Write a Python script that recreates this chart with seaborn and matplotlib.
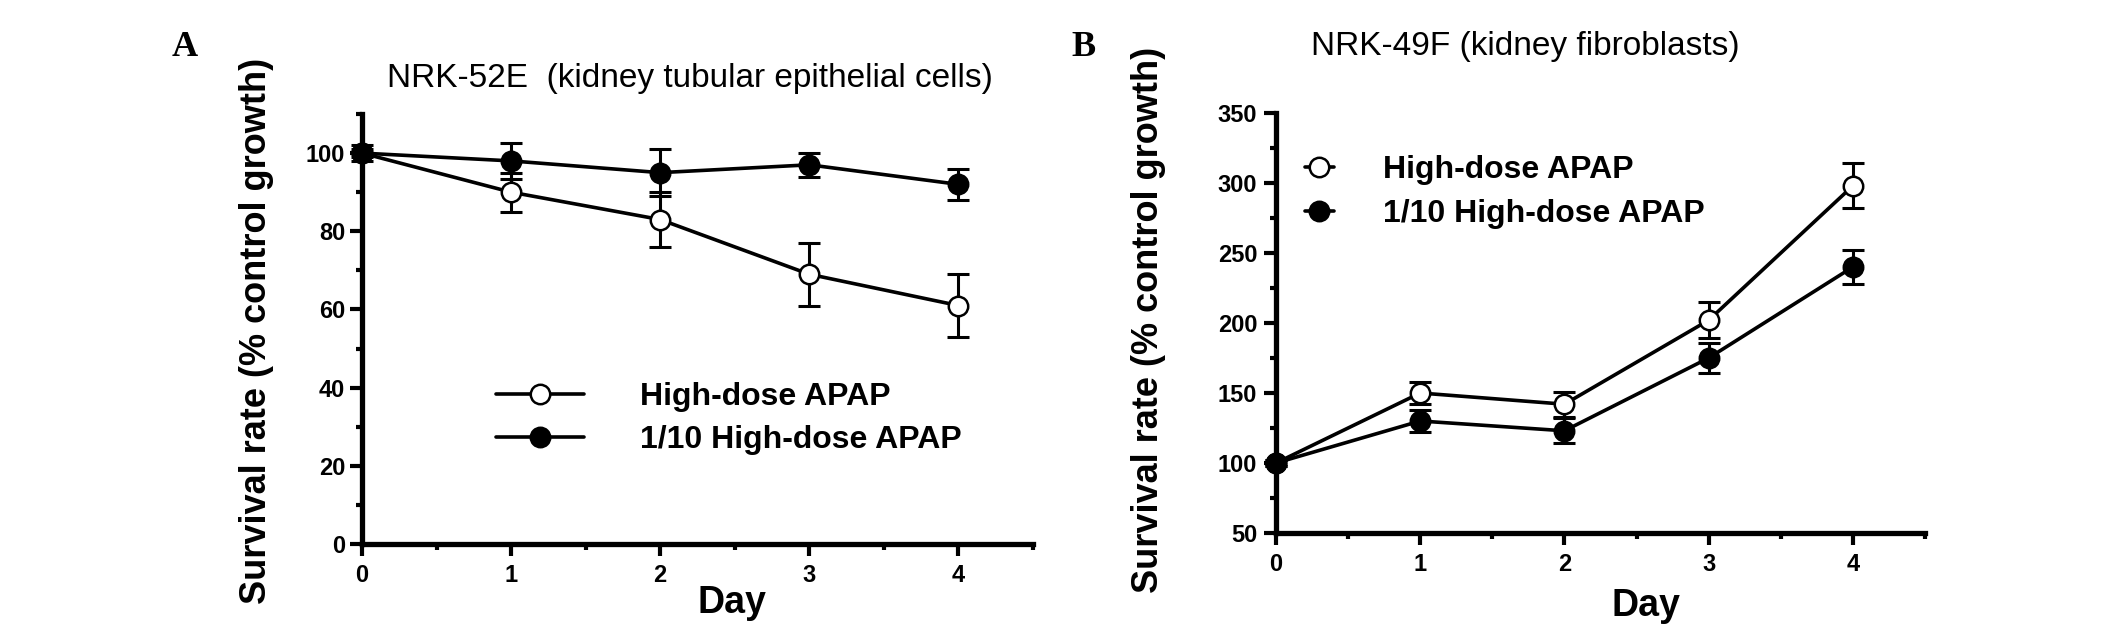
import matplotlib
matplotlib.use("Agg")
import matplotlib.pyplot as plt
from matplotlib.lines import Line2D
from matplotlib.ticker import MultipleLocator
import seaborn as sns
import pandas as pd

# ---------------- data ----------------
days = [0, 1, 2, 3, 4]
series_labels = ["High-dose APAP", "1/10 High-dose APAP"]

a_high = [100, 90, 83, 69, 61]
a_high_err = [1, 5, 7, 8, 8]
a_low = [100, 98, 95, 97, 92]
a_low_err = [2, 4.5, 6, 3, 4]

b_high = [100, 150, 142, 202, 298]
b_high_err = [2, 8, 9, 13, 16]
b_low = [100, 130, 123, 175, 240]
b_low_err = [2, 8, 9, 11, 12]

title_a = "NRK-52E  (kidney tubular epithelial cells)"
title_b = "NRK-49F (kidney fibroblasts)"
ylabel = "Survival rate (% control growth)"
xlabel = "Day"
a_yticks = [0, 20, 40, 60, 80, 100]
b_yticks = [50, 100, 150, 200, 250, 300, 350]

# ---------------- style ----------------
sns.set_style("ticks")
plt.rcParams["font.family"] = ["Liberation Sans", "DejaVu Sans"]
for k in ("text.color", "axes.labelcolor", "xtick.color", "ytick.color",
          "axes.edgecolor"):
    plt.rcParams[k] = "black"

W, H = 2126, 638
fig = plt.figure(figsize=(W / 100, H / 100), dpi=100)


def fx(px):
    return px / W


def fy(py):
    return 1 - py / H


axA = fig.add_axes([fx(362), fy(544), fx(1033) - fx(362), fy(114) - fy(544)])
axB = fig.add_axes([fx(1276), fy(533), fx(1925) - fx(1276), fy(113) - fy(533)])

LW = 2.6
MS = 14
MEW = 1.8


def draw(ax, hi, hi_e, lo, lo_e):
    df_hi = pd.DataFrame({"day": days, "val": hi})
    df_lo = pd.DataFrame({"day": days, "val": lo})
    for vals, errs in ((hi, hi_e), (lo, lo_e)):
        ax.errorbar(days, vals, yerr=errs, fmt="none", ecolor="black",
                    elinewidth=2.2, capsize=8, capthick=2.2, zorder=2,
                    clip_on=False)
    sns.lineplot(data=df_hi, x="day", y="val", ax=ax, color="black", lw=LW,
                 marker="o", markersize=MS, markerfacecolor="white",
                 markeredgecolor="black", markeredgewidth=MEW, zorder=3,
                 clip_on=False, legend=False)
    sns.lineplot(data=df_lo, x="day", y="val", ax=ax, color="black", lw=LW,
                 marker="o", markersize=MS, markerfacecolor="black",
                 markeredgecolor="black", markeredgewidth=MEW, zorder=4,
                 clip_on=False, legend=False)


draw(axA, a_high, a_high_err, a_low, a_low_err)
draw(axB, b_high, b_high_err, b_low, b_low_err)

for ax, ylim, yt, minor_y, ypad in ((axA, (0, 110), a_yticks, 10, 3.5),
                                    (axB, (50, 350), b_yticks, 25, 5)):
    ax.set_xlim(0, 4.5)
    ax.set_ylim(*ylim)
    ax.set_xticks(days)
    ax.set_yticks(yt)
    ax.xaxis.set_minor_locator(MultipleLocator(0.5))
    ax.yaxis.set_minor_locator(MultipleLocator(minor_y))
    ax.set_xlabel("")
    ax.set_ylabel("")
    for s in ("top", "right"):
        ax.spines[s].set_visible(False)
    for s in ("left", "bottom"):
        ax.spines[s].set_linewidth(3.8)
        ax.spines[s].set_color("black")
    ax.tick_params(which="major", direction="out", length=8.5, width=3.0,
                   color="black")
    ax.tick_params(which="minor", direction="out", length=4, width=3.0,
                   color="black")
    ax.tick_params(axis="x", which="major", pad=6, labelsize=17)
    ax.tick_params(axis="y", which="major", pad=ypad, labelsize=17)
    for lab in ax.get_xticklabels() + ax.get_yticklabels():
        lab.set_fontweight("bold")
        lab.set_color("black")

# ---------------- text ----------------
fig.text(fx(690), fy(78), title_a, ha="center", va="center", fontsize=24,
         color="black")
fig.text(fx(1525), fy(46), title_b, ha="center", va="center", fontsize=24,
         color="black")

fig.text(fx(256), fy(331), ylabel, ha="center", va="center", rotation=90,
         fontsize=26, fontweight="bold", color="black")
fig.text(fx(1148), fy(320), ylabel, ha="center", va="center", rotation=90,
         fontsize=26, fontweight="bold", color="black")

fig.text(fx(732), fy(603), xlabel, ha="center", va="center", fontsize=27,
         fontweight="bold", color="black")
fig.text(fx(1646), fy(606), xlabel, ha="center", va="center", fontsize=27,
         fontweight="bold", color="black")

fig.text(fx(185), fy(47), "A", ha="center", va="center", fontsize=26,
         fontweight="bold", family=["Liberation Serif", "DejaVu Serif"],
         color="black")
fig.text(fx(1084), fy(47), "B", ha="center", va="center", fontsize=26,
         fontweight="bold", family=["Liberation Serif", "DejaVu Serif"],
         color="black")

# ---------------- legends ----------------
h_open = Line2D([], [], color="black", lw=LW, marker="o", markersize=MS,
                markerfacecolor="white", markeredgecolor="black",
                markeredgewidth=MEW)
h_fill = Line2D([], [], color="black", lw=LW, marker="o", markersize=MS,
                markerfacecolor="black", markeredgecolor="black",
                markeredgewidth=MEW)

legA = axA.legend([h_open, h_fill], series_labels, loc="upper left",
                  bbox_to_anchor=(fx(496), fy(382)),
                  bbox_transform=fig.transFigure, frameon=False,
                  borderpad=0, borderaxespad=0, handlelength=2.75,
                  handletextpad=1.75, labelspacing=0.42,
                  prop={"weight": "bold", "size": 23})
legB = axB.legend([h_open, h_fill], series_labels, loc="upper left",
                  bbox_to_anchor=(fx(1305), fy(155)),
                  bbox_transform=fig.transFigure, frameon=False,
                  borderpad=0, borderaxespad=0, handlelength=0.9,
                  handletextpad=1.55, labelspacing=0.45,
                  prop={"weight": "bold", "size": 23})
for leg in (legA, legB):
    for t in leg.get_texts():
        t.set_color("black")

fig.savefig("out.png", dpi=100)
